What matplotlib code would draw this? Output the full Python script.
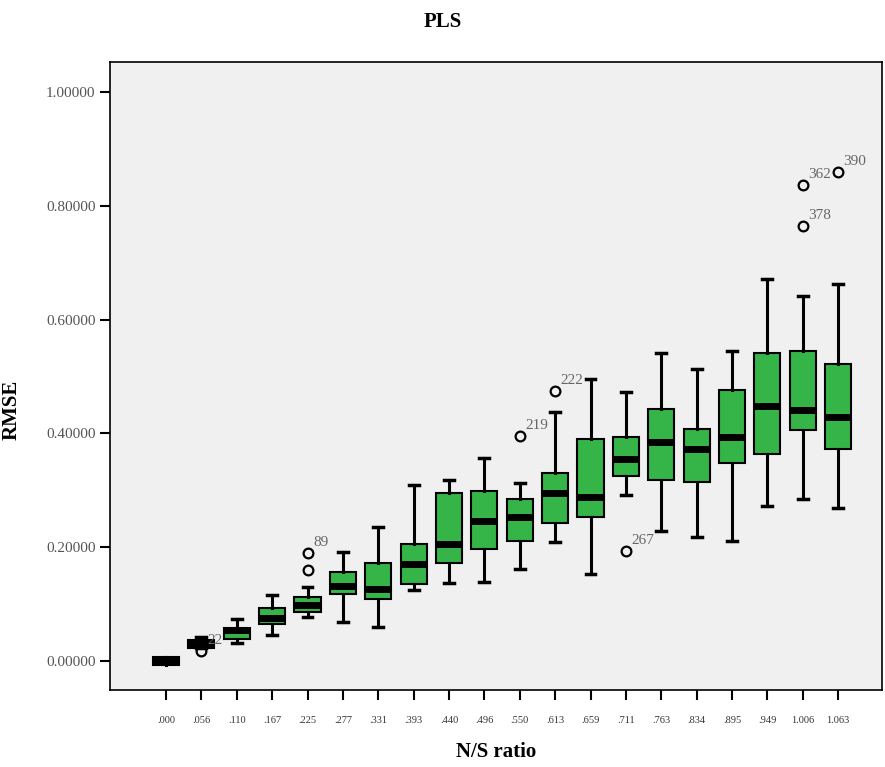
import numpy as np
import matplotlib.pyplot as plt

# data
ratios = [".000", ".056", ".110", ".167", ".225", ".277", ".331", ".393", ".440", ".496",
          ".550", ".613", ".659", ".711", ".763", ".834", ".895", ".949", "1.006", "1.063"]
whislo = [0.000, 0.022, 0.032, 0.046, 0.077, 0.069, 0.060, 0.125, 0.137, 0.139,
          0.162, 0.209, 0.153, 0.292, 0.228, 0.218, 0.211, 0.272, 0.285, 0.269]
q1 = [-0.007, 0.023, 0.039, 0.065, 0.086, 0.118, 0.109, 0.135, 0.172, 0.197,
      0.211, 0.243, 0.253, 0.325, 0.318, 0.315, 0.348, 0.364, 0.406, 0.373]
med = [0.000, 0.030, 0.054, 0.075, 0.098, 0.132, 0.127, 0.170, 0.206, 0.246,
       0.253, 0.295, 0.288, 0.355, 0.385, 0.373, 0.394, 0.448, 0.441, 0.429]
q3 = [0.007, 0.037, 0.058, 0.093, 0.112, 0.156, 0.172, 0.206, 0.295, 0.299,
      0.285, 0.330, 0.390, 0.394, 0.443, 0.408, 0.476, 0.541, 0.545, 0.522]
whishi = [0.000, 0.042, 0.074, 0.116, 0.130, 0.192, 0.236, 0.309, 0.318, 0.357,
          0.313, 0.438, 0.496, 0.473, 0.541, 0.513, 0.545, 0.671, 0.641, 0.663]
fliers = [[], [0.017], [], [], [0.160, 0.190], [], [], [], [], [],
          [0.395], [0.475], [], [0.193], [], [], [], [], [0.765, 0.837], [0.860]]

# outlier case labels: (box index, value, text)
flier_labels = [(1, 0.017, "22"), (4, 0.190, "89"), (10, 0.395, "219"),
                (11, 0.475, "222"), (13, 0.193, "267"), (18, 0.765, "378"),
                (18, 0.837, "362"), (19, 0.860, "390")]

plt.rcParams['font.family'] = ['Liberation Serif', 'DejaVu Serif']

fig = plt.figure(figsize=(8.85, 7.67), dpi=100)
ax = fig.add_axes([0.1243, 0.1004, 0.8723, 0.8188])
ax.set_facecolor("#f0f0f0")

stats = []
for i in range(len(ratios)):
    stats.append(dict(whislo=whislo[i], q1=q1[i], med=med[i], q3=q3[i],
                      whishi=whishi[i], fliers=fliers[i]))

pos = np.arange(len(ratios))
ax.bxp(stats, positions=pos, widths=0.74, patch_artist=True, showfliers=True,
       boxprops=dict(facecolor="#35b548", edgecolor="black", linewidth=1.5),
       medianprops=dict(color="black", linewidth=5, solid_capstyle="butt"),
       whiskerprops=dict(color="black", linewidth=2.2),
       capprops=dict(color="black", linewidth=2.5),
       capwidths=0.28,
       flierprops=dict(marker="o", markerfacecolor="none", markeredgecolor="black",
                       markersize=7, markeredgewidth=1.6))

for i, v, t in flier_labels:
    ax.annotate(t, (pos[i], v), xytext=(4, 3), textcoords="offset points",
                fontsize=11, color="#666666", ha="left", va="bottom")

ax.set_xlim(-1.583, 20.24)
ax.set_ylim(-0.051, 1.053)
ax.set_xticks(pos)
ax.set_xticklabels(ratios, fontsize=7.5, color="#333333")
ax.set_yticks(np.arange(0, 1.01, 0.2))
ax.set_yticklabels(["%.5f" % v for v in np.arange(0, 1.01, 0.2)], fontsize=11, color="#555555")
ax.tick_params(axis="both", direction="out", length=7, width=1.5, color="black")
ax.tick_params(axis="x", pad=12)
for s in ax.spines.values():
    s.set_color("black")
    s.set_linewidth(1.2)

ax.set_xlabel("N/S ratio", fontsize=15, fontweight="bold", labelpad=12)
ax.set_ylabel("RMSE", fontsize=15, fontweight="bold")
ax.yaxis.set_label_coords(-0.114, 0.446)
fig.text(0.5, 0.971, "PLS", ha="center", va="center", fontsize=15, fontweight="bold")

fig.savefig("out.png", dpi=100)
